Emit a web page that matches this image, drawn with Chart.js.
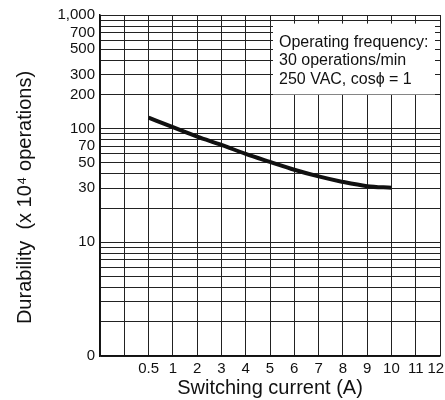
<!DOCTYPE html>
<html>
<head>
<meta charset="utf-8">
<script src="https://cdn.jsdelivr.net/npm/chart.js@4"></script>
<style>
  html, body { margin: 0; padding: 0; background: #fff; }
  #wrap { width: 445px; height: 400px; position: relative; }
</style>
</head>
<body>
<div id="wrap"><canvas id="durabilityChart"></canvas></div>
<script>
// categories on the x axis (first two slots are blank grid columns)
const currentLabels = ['', '', '0.5', '1', '2', '3', '4', '5', '6', '7', '8', '9', '10', '11', '12'];
// durability (x 10^4 operations)
const durability = [null, null, 125, 103, 85, 72, 60, 51, 43.5, 38, 34, 31.2, 30.2, null, null];
// labelled y ticks
const yTickValues = [1, 10, 30, 50, 70, 100, 200, 300, 500, 700, 1000];
const yTickLabels = ['0', '10', '30', '50', '70', '100', '200', '300', '500', '700', '1,000'];
const noteLines = ['Operating frequency:', '30 operations/min', '250 VAC, cos\u03d5 = 1'];

const FONT = "'Liberation Sans', Arial, Helvetica, sans-serif";
const INK = '#111';

// grid lines at 1..9 of every decade
const yGrid = [];
for (let d = 1; d <= 100; d *= 10) {
  for (let m = 1; m <= 9; m++) yGrid.push(m * d);
}
yGrid.push(1000);

const notePlugin = {
  id: 'note',
  afterDraw(chart) {
    const ctx = chart.ctx;
    const x = chart.scales.x, y = chart.scales.y;
    const area = chart.chartArea;
    const left = x.getPixelForValue(7) + 3;
    const right = area.right - 5;
    const top = y.getPixelForValue(840);
    const bottom = y.getPixelForValue(200);
    ctx.save();
    ctx.fillStyle = '#fff';
    ctx.fillRect(left, top, right - left, bottom - top);
    ctx.fillStyle = INK;
    ctx.font = '16px ' + FONT;
    ctx.textBaseline = 'middle';
    ctx.textAlign = 'left';
    noteLines.forEach((t, i) => ctx.fillText(t, left + 6, top + 18.5 + i * 18.7));

    // y axis title
    ctx.translate(25, (area.top + area.bottom) / 2 + 12);
    ctx.rotate(-Math.PI / 2);
    ctx.textAlign = 'center';
    ctx.font = '20px ' + FONT;
    ctx.fillText('Durability  (x 10\u2074 operations)', 0, 0);
    ctx.restore();
  }
};

const ctx = document.getElementById('durabilityChart').getContext('2d');
new Chart(ctx, {
  type: 'line',
  data: {
    labels: currentLabels,
    datasets: [{
      data: durability,
      borderColor: '#111',
      borderWidth: 4,
      pointRadius: 0,
      fill: false,
      cubicInterpolationMode: 'monotone',
      spanGaps: false
    }]
  },
  options: {
    responsive: true,
    maintainAspectRatio: false,
    animation: false,
    layout: { padding: { top: 15, right: 5, left: 0, bottom: 0 } },
    plugins: { legend: { display: false }, tooltip: { enabled: false } },
    scales: {
      x: {
        type: 'category',
        offset: false,
        grid: { color: '#222', lineWidth: 1, drawTicks: false },
        border: { color: '#111', width: 1.5 },
        ticks: {
          autoSkip: false,
          maxRotation: 0,
          padding: 4,
          color: INK,
          font: { family: FONT, size: 15 },
          // last label sits a little left of its line, as in the original
          callback(v, i) {
            const t = currentLabels[i];
            return i === currentLabels.length - 1 ? t + '\u00a0\u00a0' : t;
          }
        },
        title: {
          display: true,
          text: 'Switching current (A)',
          color: INK,
          font: { family: FONT, size: 20 },
          padding: { top: 0, bottom: 0 }
        },
        afterFit(scale) { scale.height = 44; scale.paddingRight = 5; }
      },
      y: {
        type: 'logarithmic',
        min: 1,
        max: 1000,
        grid: { color: '#222', lineWidth: 1, drawTicks: false },
        border: { color: '#111', width: 1.5 },
        afterBuildTicks(scale) { scale.ticks = yGrid.map(v => ({ value: v })); },
        ticks: {
          autoSkip: false,
          padding: 5,
          color: INK,
          font: { family: FONT, size: 15 },
          callback(v) {
            const i = yTickValues.indexOf(v);
            return i >= 0 ? yTickLabels[i] : '';
          }
        },
        afterFit(scale) { scale.width = 100; }
      }
    }
  },
  plugins: [notePlugin]
});
</script>
</body>
</html>
